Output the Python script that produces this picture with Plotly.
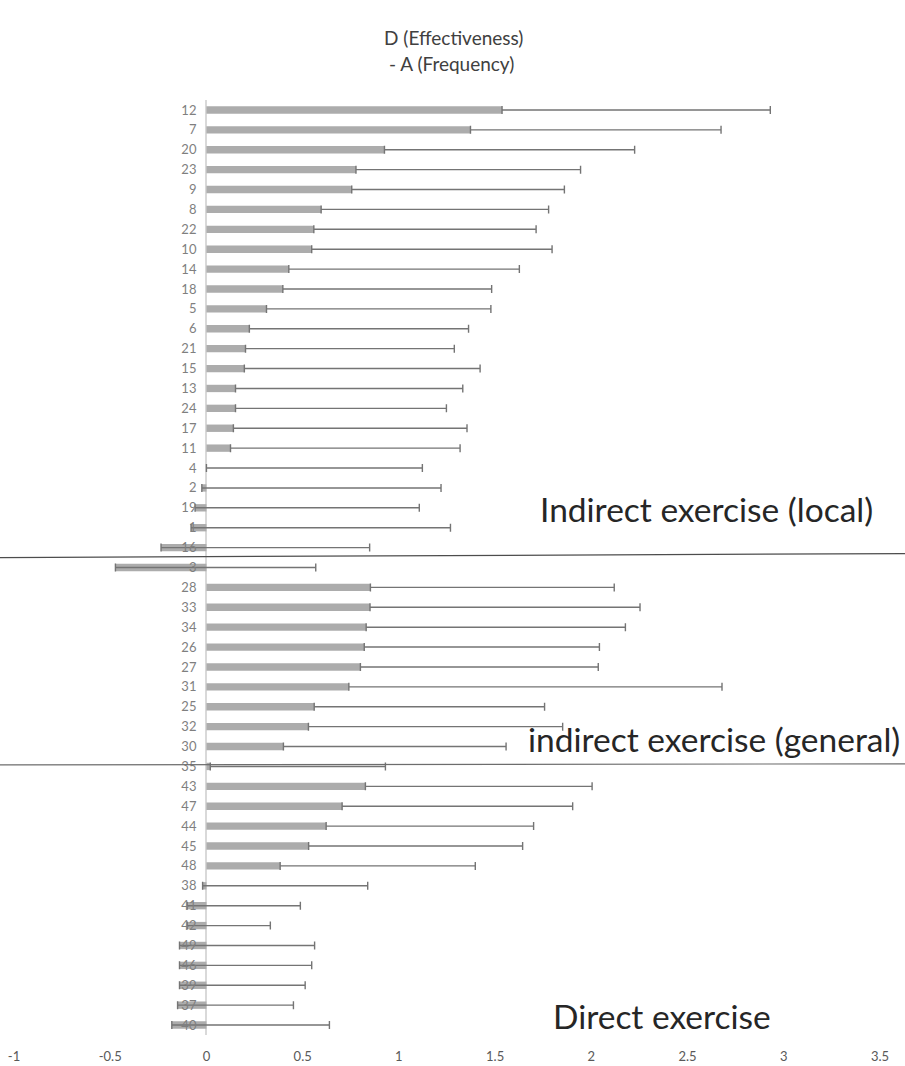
import plotly.graph_objects as go

# Item numbers, top to bottom
items = ["12", "7", "20", "23", "9", "8", "22", "10", "14", "18", "5", "6", "21", "15",
         "13", "24", "17", "11", "4", "2", "19", "1", "16", "3",
         "28", "33", "34", "26", "27", "31", "25", "32", "30", "35",
         "43", "47", "44", "45", "48", "38", "41", "42", "49", "46", "39", "37", "40"]

# Mean difference D (Effectiveness) - A (Frequency)
diff = [1.536, 1.372, 0.925, 0.777, 0.755, 0.596, 0.558, 0.547, 0.428, 0.397, 0.312, 0.223,
        0.203, 0.197, 0.151, 0.151, 0.140, 0.125, 0.0, -0.024, -0.059, -0.080, -0.236, -0.473,
        0.852, 0.850, 0.830, 0.820, 0.800, 0.740, 0.560, 0.530, 0.400, 0.020,
        0.826, 0.705, 0.622, 0.531, 0.383, -0.020, -0.100, -0.100, -0.140, -0.140, -0.140,
        -0.150, -0.180]

# Upper error (standard deviation)
err_plus = [1.394, 1.302, 1.300, 1.167, 1.105, 1.182, 1.155, 1.249, 1.198, 1.085, 1.166, 1.139,
            1.085, 1.225, 1.181, 1.096, 1.214, 1.193, 1.122, 1.243, 1.165, 1.348, 1.084, 1.041,
            1.267, 1.403, 1.347, 1.222, 1.236, 1.939, 1.197, 1.321, 1.157, 0.910,
            1.178, 1.198, 1.078, 1.112, 1.014, 0.858, 0.588, 0.432, 0.702, 0.687, 0.653,
            0.602, 0.819]

x_tickvals = [-1, -0.5, 0, 0.5, 1, 1.5, 2, 2.5, 3, 3.5]
x_ticktext = ["-1", "-0.5", "0", "0.5", "1", "1.5", "2", "2.5", "3", "3.5"]
x_range = [-1, 3.5]

group_labels = ["Indirect exercise (local)", "indirect exercise (general)", "Direct exercise"]

W, H = 905, 1066
ML, MR, MT, MB = 14, 25, 100, 31
plot_w = W - ML - MR
plot_h = H - MT - MB

FONT = "Lato"

fig = go.Figure(
    go.Bar(
        y=items,
        x=diff,
        orientation="h",
        marker=dict(color="#acacac", line=dict(width=0)),
        error_x=dict(type="data", symmetric=False, array=err_plus,
                     arrayminus=[0] * len(err_plus),
                     color="#747474", thickness=1.4, width=4),
    )
)

# value-axis position of the category axis (x = 0) as a fraction of the plot width
y_axis_pos = (0 - x_range[0]) / (x_range[1] - x_range[0])

fig.update_layout(
    width=W, height=H,
    margin=dict(l=ML, r=MR, t=MT, b=MB),
    paper_bgcolor="white", plot_bgcolor="white",
    showlegend=False,
    bargap=0.63,
    font=dict(family=FONT, color="#595959"),
    xaxis=dict(range=x_range, tickvals=x_tickvals, ticktext=x_ticktext,
               showgrid=False, zeroline=True, zerolinecolor="#d9d9d9", zerolinewidth=1.5,
               showline=False, ticks="", ticklabelstandoff=12,
               tickfont=dict(size=13, color="#595959"), automargin=False),
    yaxis=dict(type="category", categoryorder="array", categoryarray=items,
               autorange="reversed", anchor="free", position=y_axis_pos,
               showgrid=False, zeroline=False, showline=False, ticks="",
               ticklabelstandoff=10, tickfont=dict(size=13, color="#7f7f7f"),
               automargin=False),
)

# Group separators spanning the full figure width
px0 = -ML / plot_w
px1 = (W - ML) / plot_w
sep1 = items.index("16") + 0.5
sep2 = items.index("35") - 0.08
fig.add_shape(type="line", xref="paper", yref="y", x0=px0, x1=px1,
              y0=sep1, y1=sep1 - 0.2, line=dict(color="#4d4d4d", width=1.2))
fig.add_shape(type="line", xref="paper", yref="y", x0=px0, x1=px1,
              y0=sep2, y1=sep2 - 0.05, line=dict(color="#6d6d6d", width=1.2))


def px_x(p):
    return (p - ML) / plot_w


def px_y(p):
    return 1 - (p - MT) / plot_h


# Title (two lines)
fig.add_annotation(text="D (Effectiveness)", xref="paper", yref="paper",
                   x=px_x(453), y=px_y(37), xanchor="center", yanchor="middle",
                   showarrow=False, font=dict(size=19, color="#404040", family=FONT))
fig.add_annotation(text="- A (Frequency)", xref="paper", yref="paper",
                   x=px_x(451), y=px_y(64), xanchor="center", yanchor="middle",
                   showarrow=False, font=dict(size=19, color="#404040", family=FONT))

# Group names
for label, (lx, ly) in zip(group_labels, [(538, 509), (526, 739), (551, 1016)]):
    fig.add_annotation(text=label, xref="paper", yref="paper",
                       x=px_x(lx), y=px_y(ly), xanchor="left", yanchor="middle",
                       showarrow=False,
                       font=dict(size=33.5, color="#262626", family=FONT))

fig.write_html("out.html")
